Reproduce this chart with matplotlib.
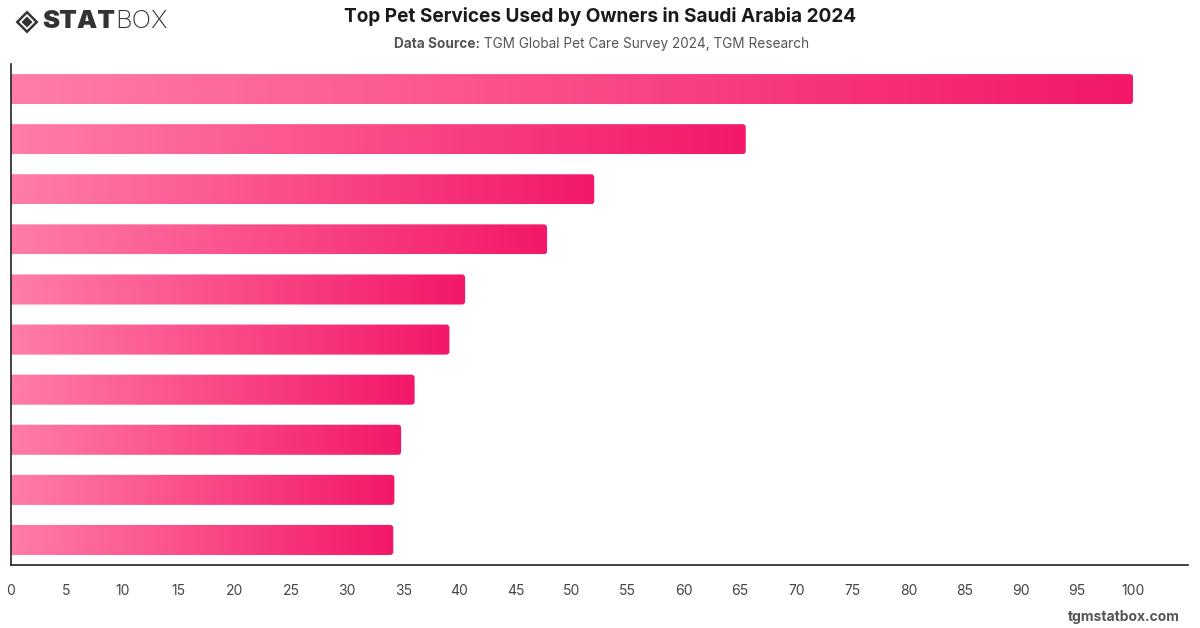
import numpy as np
import matplotlib
matplotlib.use("Agg")
import matplotlib.pyplot as plt
from matplotlib.patches import FancyBboxPatch, Polygon
from matplotlib.colors import LinearSegmentedColormap

# ---- data (category names are not shown on the chart) ----
categories = ["Rank 1", "Rank 2", "Rank 3", "Rank 4", "Rank 5",
              "Rank 6", "Rank 7", "Rank 8", "Rank 9", "Rank 10"]
values = [100.0, 65.5, 52.0, 47.8, 40.5, 39.1, 36.0, 34.8, 34.2, 34.1]
xticks = list(range(0, 101, 5))

title = "Top Pet Services Used by Owners in Saudi Arabia 2024"
source_bold = "Data Source:"
source_text = " TGM Global Pet Care Survey 2024, TGM Research"

plt.rcParams['font.family'] = ['Inter', 'DejaVu Sans']

fig = plt.figure(figsize=(12, 6.28), dpi=100)
ax = fig.add_axes([0.00875, 0.1003, 0.99 - 0.00875, 0.898 - 0.1003])

cmap = LinearSegmentedColormap.from_list("pinkgrad", ["#FF7DA8", "#FA4A88", "#F3186A"])
grad = np.linspace(0, 1, 256).reshape(1, -1)

xmax = 104.9
n = len(values)

bar_h = 0.6
# rounding radius ~3px: x units ~11.2 px, y units ~50 px
rx = 3 / 11.2
aspect = (3 / 50.1) / rx
for i, v in enumerate(values):
    y0 = i - bar_h / 2
    patch = FancyBboxPatch((-1, y0), v + 1, bar_h,
                           boxstyle=f"round,pad=0,rounding_size={rx}",
                           mutation_aspect=aspect,
                           facecolor="none", edgecolor="none",
                           transform=ax.transData)
    ax.add_patch(patch)
    im = ax.imshow(grad, cmap=cmap, aspect="auto",
                   extent=(0, v, y0 + bar_h, y0), interpolation="bicubic",
                   zorder=2)
    im.set_clip_path(patch)

ax.set_xlim(0, xmax)
ax.set_ylim(n - 0.5, -0.5)

ax.set_xticks(xticks)
ax.set_xticklabels([str(t) for t in xticks])
ax.set_yticks([])
ax.tick_params(axis='x', length=0, pad=14, labelsize=10, labelcolor="#444444")
for lbl in ax.get_xticklabels():
    lbl.set_x(lbl.get_position()[0])
for s in ["top", "right"]:
    ax.spines[s].set_visible(False)
for s in ["left", "bottom"]:
    ax.spines[s].set_color("#222222")
    ax.spines[s].set_linewidth(1.2)
ax.set_facecolor("white")

# title and subtitle
fig.text(0.5, 1 - 17 / 628, title, ha="center", va="center",
         fontsize=13.7, fontweight="bold", color="#1a1a1a")
t1 = fig.text(0.5, 1 - 44 / 628, source_bold + source_text, ha="center", va="center",
              fontsize=9.8, color="white")
fig.canvas.draw()
bb = t1.get_window_extent()
t1.set_visible(False)
x_start = bb.x0 / fig.bbox.width
tb = fig.text(x_start, 1 - 44 / 628, source_bold, ha="left", va="center",
              fontsize=9.8, fontweight="bold", color="#555555")
fig.canvas.draw()
bb2 = tb.get_window_extent()
fig.text(bb2.x1 / fig.bbox.width, 1 - 44 / 628, source_text, ha="left", va="center",
         fontsize=9.8, color="#555555")

# logo: diamond icon + STATBOX
W, H = 1200, 628
def fpt(x, y):
    return (x / W, 1 - y / H)
cx, cy, r = 27, 22, 11.5
outer = Polygon([fpt(cx, cy - r), fpt(cx + r, cy), fpt(cx, cy + r), fpt(cx - r, cy)],
                closed=True, transform=fig.transFigure, facecolor="#333333", edgecolor="none")
r2 = 8
inner_w = Polygon([fpt(cx, cy - r2), fpt(cx + r2, cy), fpt(cx, cy + r2), fpt(cx - r2, cy)],
                  closed=True, transform=fig.transFigure, facecolor="white", edgecolor="none")
r3 = 5.5
inner = Polygon([fpt(cx, cy - r3), fpt(cx + r3, cy), fpt(cx, cy + r3), fpt(cx - r3, cy)],
                closed=True, transform=fig.transFigure, facecolor="#333333", edgecolor="none")
for p in (outer, inner_w, inner):
    fig.add_artist(p)
ts = fig.text(42 / W, 1 - 22 / H, "STAT", ha="left", va="center",
              fontsize=18.5, fontweight="black", color="#333333")
fig.canvas.draw()
bbs = ts.get_window_extent()
fig.text(bbs.x1 / W, 1 - 22 / H, "BOX", ha="left", va="center",
         fontsize=18.5, fontweight="light", color="#333333")

# watermark
fig.text(1180 / W, 1 - 617 / H, "tgmstatbox.com", ha="right", va="center",
         fontsize=10, fontweight="bold", color="#555555")

fig.savefig("out.png", dpi=100, facecolor="white")
